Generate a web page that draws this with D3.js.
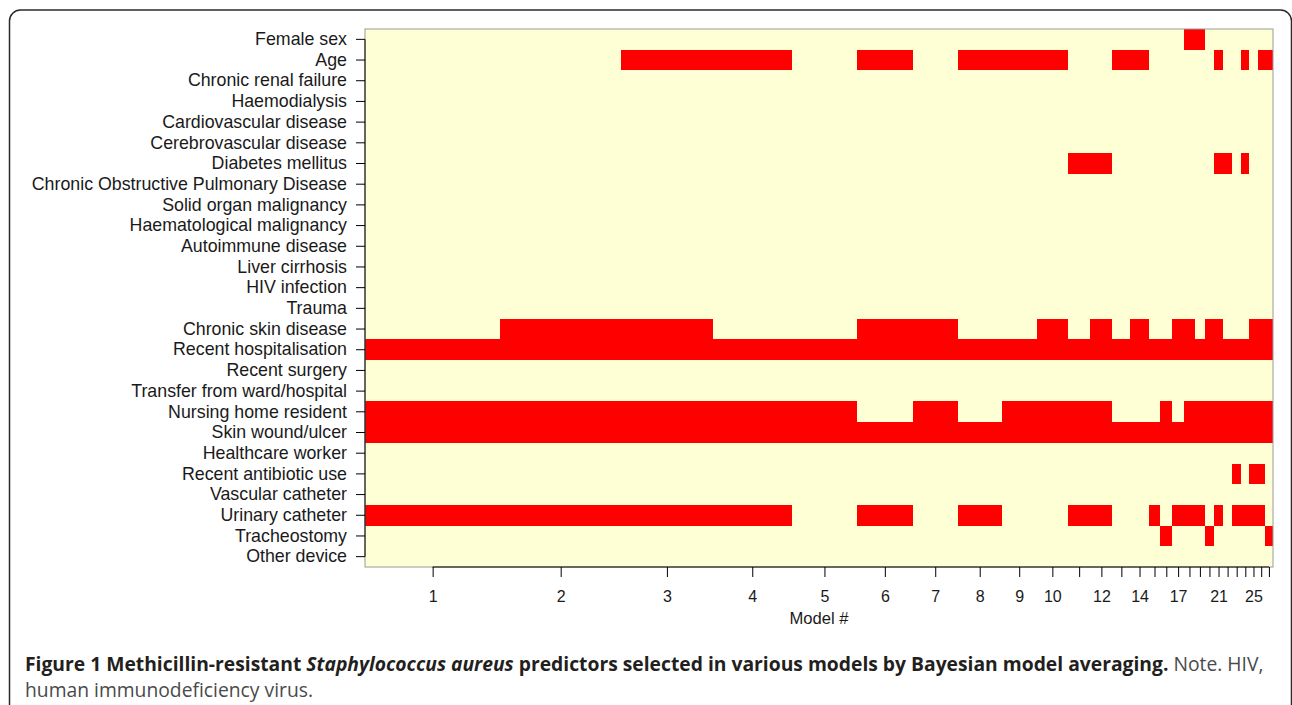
<!DOCTYPE html>
<html>
<head>
<meta charset="utf-8">
<script src="https://cdn.jsdelivr.net/npm/d3@7"></script>
<style>
  body { margin: 0; background: #fff; }
  .lab { font-family: "Liberation Sans", Arial, sans-serif; }
  .cap { font-family: "Open Sans", "Noto Sans", sans-serif; }
</style>
</head>
<body>
<svg id="chart" width="1292" height="705"></svg>
<script>

// Predictors, top to bottom
const variables = [
  "Female sex", "Age", "Chronic renal failure", "Haemodialysis",
  "Cardiovascular disease", "Cerebrovascular disease", "Diabetes mellitus",
  "Chronic Obstructive Pulmonary Disease", "Solid organ malignancy",
  "Haematological malignancy", "Autoimmune disease", "Liver cirrhosis",
  "HIV infection", "Trauma", "Chronic skin disease", "Recent hospitalisation",
  "Recent surgery", "Transfer from ward/hospital", "Nursing home resident",
  "Skin wound/ulcer", "Healthcare worker", "Recent antibiotic use",
  "Vascular catheter", "Urinary catheter", "Tracheostomy", "Other device"
];

// Posterior model probabilities (column widths), models 1..27
const postProb = [
  0.149, 0.133, 0.101, 0.087, 0.072, 0.061, 0.050, 0.048, 0.039, 0.034,
  0.025, 0.024, 0.020, 0.020, 0.013, 0.013, 0.013, 0.012, 0.011, 0.010,
  0.010, 0.010, 0.010, 0.009, 0.009, 0.008, 0.009
];

// Models (numbered from 1) that include each predictor, same order as variables
const inModels = [
  [18, 19],                                        // Female sex
  [3, 4, 6, 8, 9, 10, 13, 14, 21, 24, 26, 27],     // Age
  [], [], [], [],
  [11, 12, 21, 22, 24],                            // Diabetes mellitus
  [], [], [], [], [], [], [],
  [2, 3, 6, 7, 10, 12, 14, 17, 18, 20, 21, 25, 26, 27], // Chronic skin disease
  d3.range(1, 28),                                 // Recent hospitalisation
  [], [],
  [1, 2, 3, 4, 5, 7, 9, 10, 11, 12, 16, 18, 19, 20, 21, 22, 23, 24, 25, 26, 27], // Nursing home
  d3.range(1, 28),                                 // Skin wound/ulcer
  [],
  [23, 25, 26],                                    // Recent antibiotic use
  [],
  [1, 2, 3, 4, 6, 8, 11, 12, 15, 17, 18, 19, 21, 23, 24, 25, 26], // Urinary catheter
  [16, 20, 27],                                    // Tracheostomy
  []
];

// Model numbers that get a printed tick label
const shownLabels = [1, 2, 3, 4, 5, 6, 7, 8, 9, 10, 12, 14, 17, 21, 25];

const svg = d3.select("#chart");

// outer figure frame
svg.append("rect")
  .attr("x", 9.5).attr("y", 10)
  .attr("width", 1282).attr("height", 730)
  .attr("rx", 11)
  .attr("fill", "none")
  .attr("stroke", "#2b2b2b")
  .attr("stroke-width", 1.5);

const plot = { left: 365, right: 1273, top: 29, bottom: 567 };

const cum = d3.cumsum(postProb);
const starts = [0, ...cum.slice(0, -1)];
const centers = postProb.map((p, i) => starts[i] + p / 2);

const x = d3.scaleLinear()
  .domain([0, d3.sum(postProb)])
  .range([plot.left, plot.right]);

const y = d3.scaleBand()
  .domain(variables)
  .range([plot.top, plot.bottom]);

// background (not selected)
svg.append("rect")
  .attr("x", plot.left).attr("y", plot.top)
  .attr("width", plot.right - plot.left)
  .attr("height", plot.bottom - plot.top)
  .attr("fill", "#FFFFD5");

// selected cells
const cells = [];
variables.forEach((v, vi) => {
  inModels[vi].forEach(m => cells.push({ v: v, m: m - 1 }));
});

svg.append("g")
  .selectAll("rect")
  .data(cells)
  .enter().append("rect")
  .attr("x", d => x(starts[d.m]))
  .attr("y", d => y(d.v))
  .attr("width", d => x(cum[d.m]) - x(starts[d.m]))
  .attr("height", y.bandwidth())
  .attr("fill", "#FF0000")
  .attr("shape-rendering", "crispEdges");

// thin grey box round the image
svg.append("rect")
  .attr("x", plot.left).attr("y", plot.top)
  .attr("width", plot.right - plot.left)
  .attr("height", plot.bottom - plot.top)
  .attr("fill", "none")
  .attr("stroke", "#9a9a9a")
  .attr("stroke-width", 1);

// y axis
const yAxis = svg.append("g")
  .attr("transform", `translate(${plot.left},0)`)
  .call(d3.axisLeft(y).tickSize(9).tickPadding(9));
yAxis.select(".domain").remove();
yAxis.selectAll("text")
  .attr("class", "lab")
  .style("font-size", "17.8px")
  .attr("fill", "#1a1a1a");
yAxis.append("line")
  .attr("y1", y(variables[0]) + y.bandwidth() / 2)
  .attr("y2", y(variables[variables.length - 1]) + y.bandwidth() / 2)
  .attr("stroke", "#000");

// x axis
const xAxis = svg.append("g")
  .attr("transform", `translate(0,${plot.bottom})`)
  .call(d3.axisBottom(x)
    .tickValues(centers)
    .tickSize(10)
    .tickPadding(14)
    .tickFormat((d, i) => shownLabels.includes(i + 1) ? String(i + 1) : ""));
xAxis.select(".domain").remove();
xAxis.selectAll("text")
  .attr("class", "lab")
  .style("font-size", "16px")
  .attr("fill", "#1a1a1a");
xAxis.append("line")
  .attr("x1", x(centers[0]))
  .attr("x2", x(centers[centers.length - 1]))
  .attr("stroke", "#000");

svg.append("text")
  .attr("class", "lab")
  .attr("x", (plot.left + plot.right) / 2)
  .attr("y", 624)
  .attr("text-anchor", "middle")
  .style("font-size", "16.6px")
  .attr("fill", "#1a1a1a")
  .text("Model #");

// caption
const line1 = svg.append("text")
  .attr("class", "cap")
  .attr("x", 25).attr("y", 671)
  .style("font-size", "18px")
  .attr("fill", "#231f20");
line1.append("tspan").style("font-weight", "bold").text("Figure 1 Methicillin-resistant ");
line1.append("tspan").style("font-weight", "bold").style("font-style", "italic").text("Staphylococcus aureus");
line1.append("tspan").style("font-weight", "bold").text(" predictors selected in various models by Bayesian model averaging.");
line1.append("tspan").attr("fill", "#4a4a4a").text(" Note. HIV,");

const line2 = svg.append("text")
  .attr("class", "cap")
  .attr("x", 25).attr("y", 697)
  .style("font-size", "18px")
  .attr("fill", "#4a4a4a")
  .text("human immunodeficiency virus.");

// fit caption to the width it takes in the figure
const w = line1.node().getComputedTextLength();
const fs = 18 * 1239 / w;
line1.style("font-size", fs + "px");
line2.style("font-size", fs + "px");

</script>
</body>
</html>
